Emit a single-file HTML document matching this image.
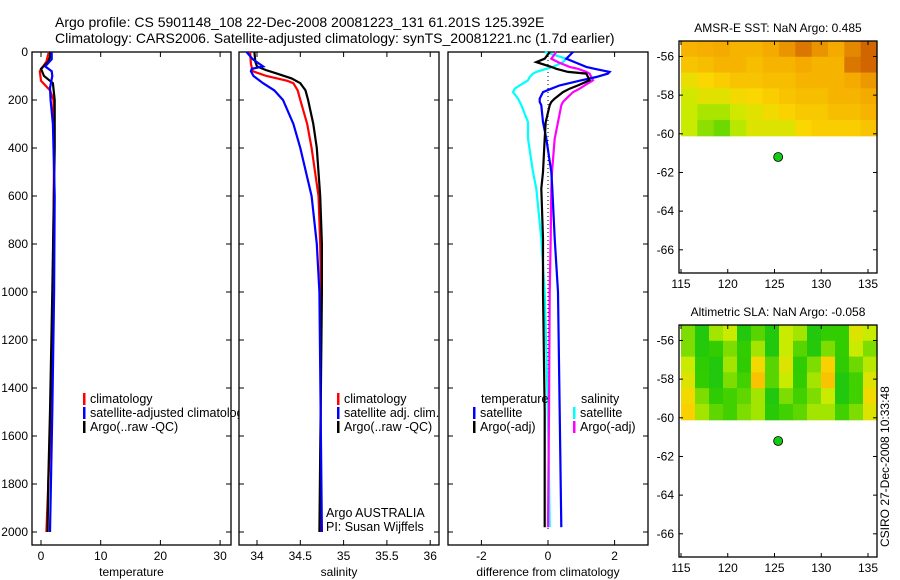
<!DOCTYPE html>
<html><head><meta charset="utf-8"><style>
html,body{margin:0;padding:0;background:#fff;}
svg{display:block;font-family:"Liberation Sans",sans-serif;}
</style></head><body>
<svg id="fig" width="900" height="580" viewBox="0 0 900 580">
<rect width="900" height="580" fill="#fff"/>
<text x="55" y="27" font-size="14">Argo profile: CS 5901148_108 22-Dec-2008 20081223_131 61.201S 125.392E</text>
<text x="55" y="43" font-size="14">Climatology: CARS2006. Satellite-adjusted climatology: synTS_20081221.nc (1.7d earlier)</text>
<g id="g"></g>
</svg>
<script>
// ---- depth profile data ----
const tDepth = [0,20,40,70,100,130,200,400,700,1000,1500,1800,2000];
const tArgo  = [1.5,1.5,1.2,0.0,0.5,2.0,2.3,2.3,2.1,1.9,1.5,1.2,1.1];
const tClimDepth = [0,40,80,120,160,200,400,1000,1500,2000];
const tClim = [1.3,0.9,-0.2,0.0,1.5,2.1,2.2,2.0,1.7,0.9];
const tSatDepth = [0,30,60,80,100,150,200,300,600,1000,1500,2000];
const tSat = [1.8,1.8,0.7,1.8,1.9,1.5,1.6,2.0,2.3,2.2,1.9,1.5];

const sArgoDepth = [0,40,60,75,90,110,130,160,200,300,400,600,800,1000,2000];
const sArgo = [33.97,33.98,34.0,34.1,34.23,34.4,34.5,34.56,34.59,34.65,34.69,34.73,34.75,34.75,34.72];
const sClimDepth = [0,50,80,100,120,130,160,200,300,400,600,800,1000,2000];
const sClim = [33.92,33.93,33.95,34.11,34.35,34.42,34.47,34.5,34.58,34.63,34.71,34.73,34.74,34.73];
const sSatDepth = [0,30,60,70,80,100,130,160,200,300,400,600,800,1000,2000];
const sSat = [33.88,33.95,34.07,33.94,33.93,33.96,34.07,34.2,34.3,34.42,34.5,34.63,34.69,34.72,34.75];

const dDepth = [0,28,42,62,70,83,90,104,118,139,153,167,194,208,222,292,361,500,569,777,1000,1500,1980];
const dTempSat  = [0.75,0.55,0.8,1.15,1.4,1.85,1.8,1.45,1.0,0.35,0.1,-0.15,-0.25,-0.25,-0.2,-0.15,-0.05,0.1,0.13,0.2,0.3,0.35,0.4];
const dTempArgo = [0.05,-0.1,-0.35,0.1,0.25,0.6,1.15,1.2,1.25,0.9,0.65,0.45,0.2,0.1,0.05,-0.07,-0.1,-0.15,-0.2,-0.15,-0.15,-0.1,-0.1];
const dSalSat   = [-0.1,0.55,0.45,0.15,-0.05,-0.35,-0.45,-0.55,-0.6,-0.85,-1.0,-1.05,-0.9,-0.85,-0.8,-0.6,-0.6,-0.45,-0.35,-0.2,-0.1,0.0,0.05];
const dSalArgo  = [0.25,0.1,0.3,0.65,0.9,1.15,1.25,1.3,1.35,1.1,0.95,0.75,0.55,0.45,0.4,0.3,0.2,0.12,0.1,0.08,0.05,0.03,0.0];

const depthTicks = [0,200,400,600,800,1000,1200,1400,1600,1800,2000];
const tempTicks = [0,10,20,30];
const salTicks = [34,34.5,35,35.5,36];
const salTickLabels = ["34","34.5","35","35.5","36"];
const diffTicks = [-2,0,2];
const diffTickLabels = ["-2","0","2"];

// ---- map data ----
const lonTicks = [115,120,125,130,135];
const latTicks = [-56,-58,-60,-62,-64,-66];
const sstGrid = [
 [.76,.78,.8,.76,.76,.8,.85,.92,.85,.8,.88,.96],
 [.7,.72,.76,.76,.72,.76,.76,.8,.76,.76,.92,.96],
 [.58,.62,.66,.7,.7,.72,.72,.76,.76,.76,.8,.84],
 [.52,.56,.56,.6,.62,.66,.7,.72,.72,.76,.76,.8],
 [.5,.46,.46,.52,.56,.6,.64,.68,.68,.72,.72,.76],
 [.5,.42,.38,.48,.55,.55,.55,.62,.66,.66,.66,.7]];
const slaGrid = [
 [.4,.2,.45,.5,.2,.35,.2,.5,.45,.2,.3,.3,.55,.5],
 [.4,.22,.3,.4,.3,.45,.2,.5,.35,.22,.4,.3,.5,.4],
 [.5,.28,.2,.45,.28,.6,.35,.55,.28,.4,.65,.28,.38,.48],
 [.55,.3,.2,.4,.32,.7,.35,.5,.3,.45,.7,.2,.32,.55],
 [.6,.4,.28,.32,.36,.45,.2,.4,.32,.4,.5,.2,.32,.6],
 [.65,.45,.36,.32,.4,.45,.24,.32,.36,.45,.45,.32,.4,.55]];
const argoLon = 125.392, argoLat = -61.201;

const NS="http://www.w3.org/2000/svg";
const G=document.getElementById('g');
function mk(tag,attrs,parent){const e=document.createElementNS(NS,tag);for(const k in attrs)e.setAttribute(k,attrs[k]);(parent||G).appendChild(e);return e;}

const Y0=52,Y1=545;
const yD=d=>Y0+d*0.24;

function panel(name,x0,x1,xf,xticks,xlabels,xtitle,showY){
  const g=mk('g',{});
  
  
  const r=mk('rect',{x:x0,y:Y0,width:x1-x0,height:Y1-Y0,fill:'#fff',stroke:'#000','stroke-width':1.3},g);
  
  
  xticks.forEach((v,i)=>{const x=xf(v);
    mk('line',{x1:x,x2:x,y1:Y1,y2:Y1-5,stroke:'#000'},g);
    mk('line',{x1:x,x2:x,y1:Y0,y2:Y0+5,stroke:'#000'},g);
    const t=mk('text',{x:x,y:Y1+15,'font-size':12,'text-anchor':'middle'},g);t.textContent=xlabels[i];
    
    
  });
  depthTicks.forEach(d=>{const y=yD(d);
    mk('line',{x1:x0,x2:x0+5,y1:y,y2:y,stroke:'#000'},g);
    mk('line',{x1:x1,x2:x1-5,y1:y,y2:y,stroke:'#000'},g);
    if(showY){const t=mk('text',{x:x0-4,y:y+4,'font-size':12,'text-anchor':'end'},g);t.textContent=d;
      
      }
  });
  const tt=mk('text',{x:(x0+x1)/2,y:Y1+31,'font-size':12,'text-anchor':'middle'},g);tt.textContent=xtitle;
  
  
  return g;
}
function line(g,name,depths,vals,xf,color){
  const pts=depths.map((d,i)=>xf(vals[i]).toFixed(1)+','+yD(d).toFixed(1)).join(' ');
  const p=mk('polyline',{points:pts,fill:'none',stroke:color,'stroke-width':2.2},g);
  
  
}
function legend(g,name,x,y,color,label){
  const l=mk('g',{},g);
  
  
  if(color)mk('rect',{x:x,y:y-10,width:2.5,height:12,fill:color},l);
  const t=mk('text',{x:x+7,y:y,'font-size':12.5},l);t.textContent=label;
}

// Panel 1 temperature
const xT=v=>41+v*5.97;
const p1=panel('temperature-panel',32,231,xT,tempTicks,tempTicks.map(String),'temperature',true);
line(p1,'temp-climatology-line',tClimDepth,tClim,xT,'#f00');
line(p1,'temp-argo-line',tDepth,tArgo,xT,'#000');
line(p1,'temp-satellite-line',tSatDepth,tSat,xT,'#00f');
legend(p1,'legend-climatology',83,403,'#f00','climatology');
legend(p1,'legend-satellite-adjusted',83,417,'#00f','satellite-adjusted climatology');
legend(p1,'legend-argo-raw',83,431,'#000','Argo(..raw -QC)');

// Panel 2 salinity
const xS=v=>257+(v-34)*86.6;
const p2=panel('salinity-panel',239,439,xS,salTicks,salTickLabels,'salinity',false);
line(p2,'sal-climatology-line',sClimDepth,sClim,xS,'#f00');
line(p2,'sal-argo-line',sArgoDepth,sArgo,xS,'#000');
line(p2,'sal-satellite-line',sSatDepth,sSat,xS,'#00f');
legend(p2,'legend-sal-climatology',337,403,'#f00','climatology');
legend(p2,'legend-sal-satellite',337,417,'#00f','satellite adj. clim.');
legend(p2,'legend-sal-argo',337,431,'#000','Argo(..raw -QC)');
legend(p2,'argo-australia-label',319,517,null,'Argo AUSTRALIA');
legend(p2,'pi-label',319,531,null,'PI: Susan Wijffels');

// Panel 3 difference
const xDf=v=>548+v*33.3;
const p3=panel('difference-panel',448,648,xDf,diffTicks,diffTickLabels,'difference from climatology',false);
const zl=mk('line',{x1:xDf(0),x2:xDf(0),y1:Y0,y2:yD(2000),stroke:'#000','stroke-dasharray':'1,3'},p3);


line(p3,'diff-sal-satellite-line',dDepth,dSalSat,xDf,'#0ff');
line(p3,'diff-sal-argo-line',dDepth,dSalArgo,xDf,'#f0f');
line(p3,'diff-temp-satellite-line',dDepth,dTempSat,xDf,'#00f');
line(p3,'diff-temp-argo-line',dDepth,dTempArgo,xDf,'#000');
legend(p3,'legend-temperature-heading',474,403,null,'temperature');
legend(p3,'legend-temp-satellite',473,417,'#00f','satellite');
legend(p3,'legend-temp-argo',473,431,'#000','Argo(-adj)');
legend(p3,'legend-salinity-heading',574,403,null,'salinity');
legend(p3,'legend-sal-satellite-diff',573,417,'#0ff','satellite');
legend(p3,'legend-sal-argo-diff',573,431,'#f0f','Argo(-adj)');

// colormap
function cmap(v){
  const stops=[[0,[0,190,40]],[0.3,[50,205,0]],[0.5,[200,235,0]],[0.62,[250,215,0]],[0.8,[245,170,0]],[1,[200,85,0]]];
  for(let i=1;i<stops.length;i++){if(v<=stops[i][0]){const a=stops[i-1],b=stops[i],t=(v-a[0])/(b[0]-a[0]);
    return 'rgb('+a[1].map((c,k)=>Math.round(c+(b[1][k]-c)*t)).join(',')+')';}}
  return 'rgb(200,85,0)';
}
function map(name,title,top,bottom,grid){
  const x0=679,x1=877;
  const lonX=l=>681+(l-115)*9.35;
  const s=(bottom-top)/(-67.2+55.2);
  const latY=l=>top+(l+55.2)*s;
  const g=mk('g',{});
  
  
  const rows=grid.length,cols=grid[0].length;
  const gx0=lonX(115),gx1=x1,gy0=top,gy1=latY(-60.1);
  const cw=(gx1-gx0)/cols,ch=(gy1-gy0)/rows;
  const cells=mk('g',{},g);
  
  
  grid.forEach((row,r)=>row.forEach((v,c)=>{
    const rc=mk('rect',{x:(gx0+c*cw).toFixed(2),y:(gy0+r*ch).toFixed(2),width:(cw+0.6).toFixed(2),height:(ch+0.6).toFixed(2),fill:cmap(v)},cells);
    
    
  }));
  mk('rect',{x:x0,y:top,width:x1-x0,height:bottom-top,fill:'none',stroke:'#000','stroke-width':1.3},g);
  lonTicks.forEach(l=>{const x=lonX(l);
    mk('line',{x1:x,x2:x,y1:bottom,y2:bottom-4,stroke:'#000'},g);
    mk('line',{x1:x,x2:x,y1:top,y2:top+4,stroke:'#000'},g);
    const t=mk('text',{x:x,y:bottom+15,'font-size':12,'text-anchor':'middle'},g);t.textContent=l;
    
    });
  latTicks.forEach(l=>{const y=latY(l);
    mk('line',{x1:x0,x2:x0+4,y1:y,y2:y,stroke:'#000'},g);
    mk('line',{x1:x1,x2:x1-4,y1:y,y2:y,stroke:'#000'},g);
    const t=mk('text',{x:x0-5,y:y+4,'font-size':12,'text-anchor':'end'},g);t.textContent='-'+(-l);
    
    });
  const d=mk('circle',{cx:lonX(argoLon),cy:latY(argoLat),r:4.5,fill:'#1c1',stroke:'#000','stroke-width':0.8},g);
  
  
  const t=mk('text',{x:(x0+x1)/2,y:top-9,'font-size':12,'text-anchor':'middle'},g);t.textContent=title;
  
  
}
map('sst-map','AMSR-E SST: NaN Argo: 0.485',41,273,sstGrid);
map('sla-map','Altimetric SLA: NaN Argo: -0.058',325,557,slaGrid);

const st=mk('text',{x:0,y:0,'font-size':12,transform:'translate(889,547) rotate(-90)'});
st.textContent='CSIRO 27-Dec-2008 10:33:48';


</script>
</body></html>
